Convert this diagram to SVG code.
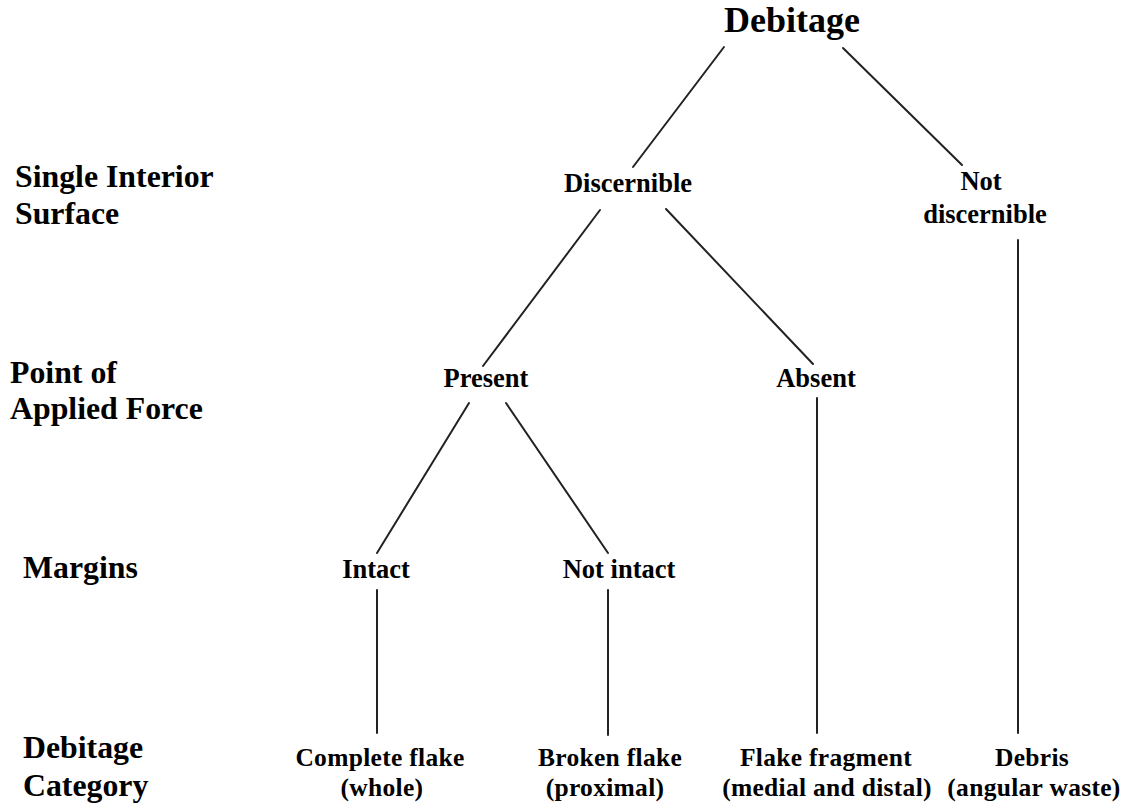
<svg xmlns="http://www.w3.org/2000/svg" width="1134" height="811" viewBox="0 0 1134 811">
<style>
text{font-family:"Liberation Serif","Times New Roman",serif;font-weight:bold;fill:#000}
.t{font-size:36px;text-anchor:middle}
.lv{font-size:31.8px}
.n{font-size:26.5px;text-anchor:middle}
.b{font-size:25.5px;text-anchor:middle;letter-spacing:0.3px}
.c line{stroke:#222;stroke-width:2;stroke-linecap:round}
</style>
<rect width="1134" height="811" fill="#fff"/>
<g id="levels">
<text class="lv" x="15" y="187">Single Interior</text>
<text class="lv" x="15" y="224">Surface</text>
<text class="lv" x="10" y="383">Point of</text>
<text class="lv" x="10" y="419">Applied Force</text>
<text class="lv" x="23" y="578">Margins</text>
<text class="lv" x="23" y="758">Debitage</text>
<text class="lv" x="23" y="796">Category</text>
</g>
<g class="c" id="connectors">
<line x1="724" y1="47" x2="633" y2="167"/>
<line x1="843" y1="48" x2="962" y2="165"/>
<line x1="600" y1="210" x2="483" y2="366"/>
<line x1="666" y1="209" x2="813" y2="364"/>
<line x1="469" y1="403" x2="377" y2="553"/>
<line x1="506" y1="403" x2="608" y2="553"/>
<line x1="377" y1="590" x2="377" y2="733"/>
<line x1="608" y1="590" x2="608" y2="735"/>
<line x1="817" y1="398" x2="817" y2="733"/>
<line x1="1018" y1="240" x2="1018" y2="733"/>
</g>
<g id="n-debitage"><text class="t" x="792" y="32">Debitage</text></g>
<g id="n-discernible"><text class="n" x="628" y="192">Discernible</text></g>
<g id="n-notdiscernible"><text class="n" x="981" y="190">Not</text><text class="n" x="985" y="223">discernible</text></g>
<g id="n-present"><text class="n" x="486" y="387">Present</text></g>
<g id="n-absent"><text class="n" x="816" y="387">Absent</text></g>
<g id="n-intact"><text class="n" x="376" y="578">Intact</text></g>
<g id="n-notintact"><text class="n" x="619" y="578">Not intact</text></g>
<g id="n-complete"><text class="b" x="380" y="766">Complete flake</text><text class="b" x="382" y="796">(whole)</text></g>
<g id="n-broken"><text class="b" x="610" y="766">Broken flake</text><text class="b" x="605" y="796">(proximal)</text></g>
<g id="n-fragment"><text class="b" x="826" y="766">Flake fragment</text><text class="b" x="827" y="796">(medial and distal)</text></g>
<g id="n-debris"><text class="b" x="1032" y="766">Debris</text><text class="b" x="1034" y="796">(angular waste)</text></g>
</svg>
